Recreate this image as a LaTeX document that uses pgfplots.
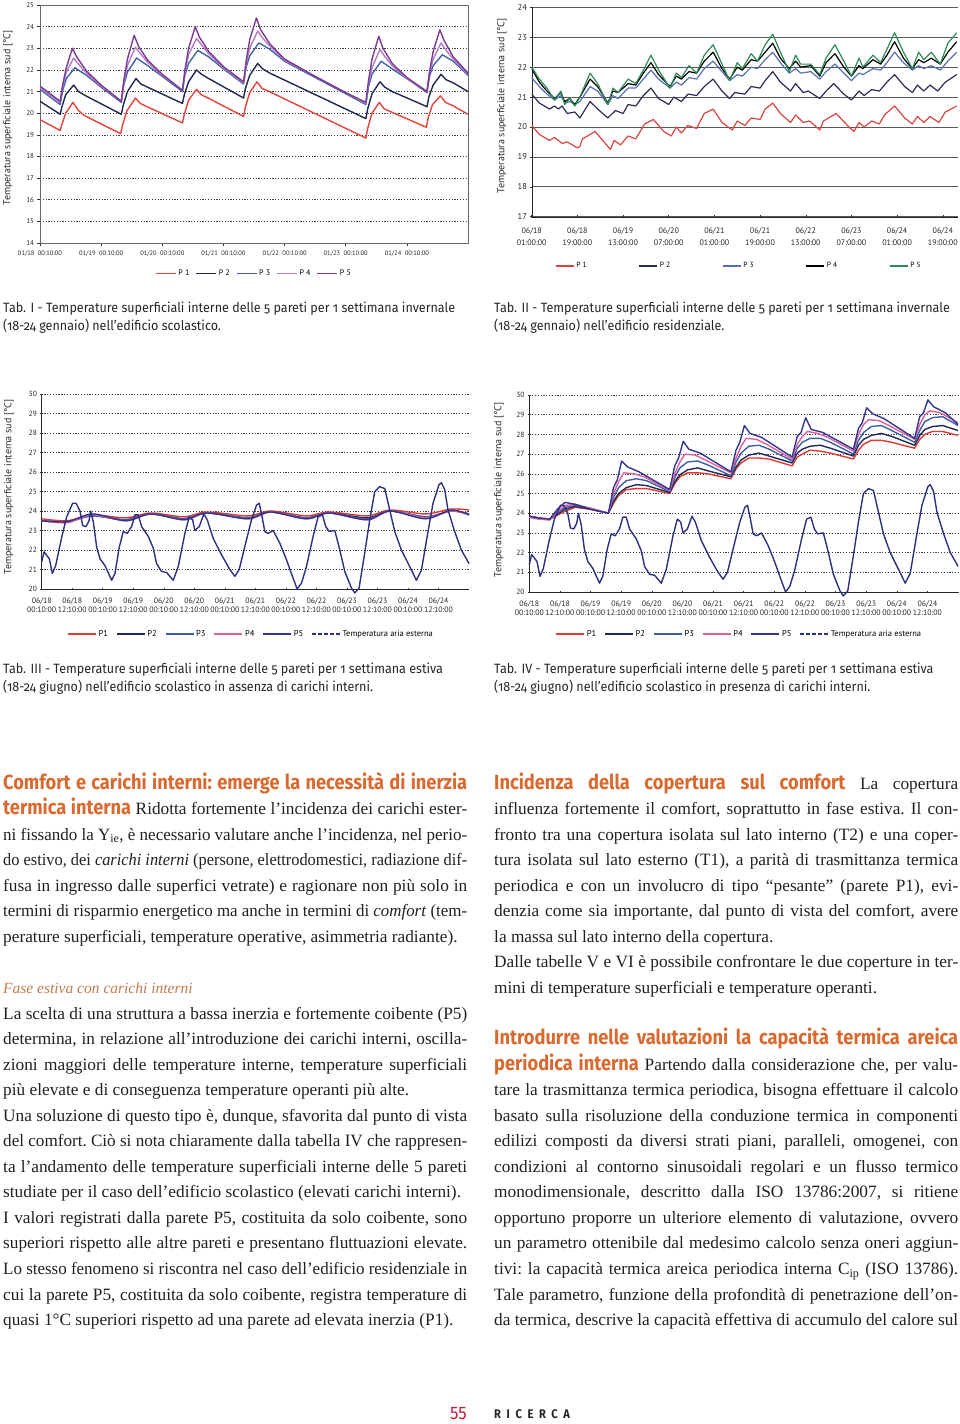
\documentclass[border=0pt]{standalone}
\usepackage{fontspec}
\usepackage{graphicx}
\usepackage{pgfplots}
\pgfplotsset{compat=1.18}
\setmainfont{Liberation Serif}
\newfontfamily\chfont{PT Sans}
\newfontfamily\capfont{Fira Sans}[FakeStretch=0.93,Numbers=OldStyle]
\newfontfamily\hdfont{Fira Sans}[FakeStretch=0.89]

\definecolor{txt}{HTML}{231F20}
\definecolor{hdorange}{HTML}{D9692E}
\definecolor{subhd}{HTML}{C27A4E}
\definecolor{pagered}{HTML}{C41E3A}
% tab I
\definecolor{aRed}{HTML}{E2453C}
\definecolor{aNavy}{HTML}{1F2850}
\definecolor{aBlue}{HTML}{4064A8}
\definecolor{aLilac}{HTML}{B47CC4}
\definecolor{aPurple}{HTML}{7B3C92}
% tab II
\definecolor{bRed}{HTML}{DA4540}
\definecolor{bNavy}{HTML}{2A2C58}
\definecolor{bBlue}{HTML}{5470B4}
\definecolor{bGreen}{HTML}{2E8B57}
% tab III / IV
\definecolor{cRed}{HTML}{E03A30}
\definecolor{cNavy}{HTML}{1E2A5C}
\definecolor{cBlue}{HTML}{3A5FA8}
\definecolor{cPink}{HTML}{E0609E}
\definecolor{cIndigo}{HTML}{34358C}
\definecolor{cOut}{HTML}{2E3080}

\newsavebox\jbox
\newcommand\bodyfont{\fontsize{17.3pt}{19pt}\selectfont\frenchspacing\color{txt}}
\newcommand\hd[1]{{\hdfont\bfseries\fontsize{20.5pt}{22pt}\selectfont\color{hdorange}#1}}
% justified line: stretched to the column, or narrowed if it is too long
\newcommand\fitline[1]{%
  \sbox\jbox{#1}%
  \ifdim\wd\jbox>464pt
    \pgfmathsetmacro\jratio{464/\wd\jbox}%
    \scalebox{\jratio}[1]{\usebox\jbox}%
  \else
    \makebox[464pt][s]{#1}%
  \fi}
\newcommand\jline[3]{\node[anchor=base west,inner sep=0pt,font=\bodyfont] at (#1pt,-#2pt) {\fitline{#3}};}
\newcommand\nline[3]{\node[anchor=base west,inner sep=0pt,font=\bodyfont] at (#1pt,-#2pt) {#3};}
\newcommand\capline[3]{\node[anchor=base west,inner sep=0pt,font=\capfont\fontsize{13.5pt}{15pt}\selectfont,text=black!85] at (#1pt,-#2pt) {#3};}
\newcommand\ylab[2]{\node[rotate=90,inner sep=0pt,font=\chfont\fontsize{10pt}{11pt}\selectfont,text=black!85] at (#1pt,-#2pt) {Temperatura superficiale interna sud [°C]};}

\pgfplotsset{
  pg/.style={
    scale only axis,
    anchor=south west,
    /pgf/number format/assume math mode=true,
    tick label style={font=\chfont\fontsize{7.5pt}{8.5pt}\selectfont, text=black!85},
    legend style={draw=none, fill=none, font=\chfont\fontsize{8.5pt}{9pt}\selectfont},
    legend image code/.code={\draw[##1] (0pt,0pt) -- (20pt,0pt);},
    every axis plot/.append style={line width=1.4pt, line join=round},
    tick style={black!80, line width=0.5pt},
    major tick length=2.5pt,
    tick align=outside,
  },
  dotgrid/.style={ymajorgrids, grid style={black!75, dash pattern=on 1.2pt off 1.6pt, line width=0.6pt}},
}

\begin{document}
\begin{tikzpicture}
\path[use as bounding box] (0pt,0pt) rectangle (960pt,-1424pt);

% ---------------- Tab. I
\begin{axis}[pg, dotgrid, at={(40pt,-243pt)}, width=428pt, height=238pt,
  xmin=0, xmax=7, ymin=14, ymax=25, ytick={14,...,25},
  xtick={0,...,6},
  xticklabels={01/18\ \ 00:10:00,01/19\ \ 00:10:00,01/20\ \ 00:10:00,01/21\ \ 00:10:00,01/22\ \ 00:10:00,01/23\ \ 00:10:00,01/24\ \ 00:10:00},
  x tick label style={font=\chfont\fontsize{6.5pt}{7pt}\selectfont, yshift=-1.5pt},
  y tick label style={font=\chfont\fontsize{7pt}{8pt}\selectfont},
  axis line style={black!60}, tick pos=left,
  legend columns=5,
  legend style={at={(0.5,-0.095)}, anchor=north, font=\chfont\fontsize{8pt}{9pt}\selectfont,
    /tikz/every even column/.append style={column sep=4pt}},
]
\addplot[aRed] coordinates {(0,19.7) (0.33,19.2) (0.36,19.5) (0.42,20.0) (0.54,20.5) (0.62,20.15) (0.72,19.9) (1.32,19.05) (1.35,19.45) (1.42,20.1) (1.56,20.7) (1.64,20.45) (1.75,20.3) (2.33,19.55) (2.36,19.95) (2.43,20.6) (2.56,21.1) (2.64,20.85) (2.75,20.7) (3.33,19.85) (3.36,20.3) (3.43,20.95) (3.55,21.45) (3.63,21.15) (3.75,21.0) (5.33,18.85) (5.36,19.3) (5.43,20.0) (5.55,20.5) (5.63,20.2) (5.75,20.05) (6.32,19.35) (6.35,19.8) (6.42,20.4) (6.55,20.8) (6.63,20.5) (6.75,20.35) (7,19.95)};
\addlegendentry{P~1}
\addplot[aNavy] coordinates {(0,20.55) (0.33,19.95) (0.36,20.3) (0.42,20.85) (0.55,21.3) (0.63,21.0) (0.75,20.8) (1.33,19.95) (1.36,20.35) (1.43,21.0) (1.57,21.6) (1.65,21.35) (1.76,21.2) (2.33,20.45) (2.36,20.85) (2.43,21.45) (2.56,22.0) (2.64,21.8) (2.76,21.6) (3.33,20.7) (3.36,21.15) (3.43,21.75) (3.56,22.3) (3.64,22.05) (3.76,21.85) (5.33,19.75) (5.36,20.2) (5.43,20.9) (5.56,21.45) (5.64,21.2) (5.76,21.0) (6.33,20.3) (6.36,20.75) (6.43,21.3) (6.56,21.8) (6.64,21.55) (6.76,21.4) (7,21.0)};
\addlegendentry{P~2}
\addplot[aBlue] coordinates {(0,21.1) (0.33,20.4) (0.37,21.05) (0.43,21.6) (0.57,22.1) (0.76,21.75) (1.0,21.2) (1.33,20.5) (1.37,21.3) (1.43,21.9) (1.58,22.55) (1.76,22.2) (2.0,21.7) (2.33,21.0) (2.37,21.75) (2.43,22.3) (2.58,22.9) (2.76,22.6) (3.0,22.05) (3.33,21.35) (3.37,22.1) (3.43,22.65) (3.58,23.25) (3.76,22.95) (4.0,22.4) (4.5,21.65) (5.0,20.9) (5.33,20.4) (5.37,21.2) (5.43,21.8) (5.58,22.4) (5.76,22.05) (6.0,21.6) (6.33,20.95) (6.37,21.7) (6.43,22.2) (6.58,22.7) (6.76,22.4) (7.0,21.75)};
\addlegendentry{P~3}
\addplot[aLilac] coordinates {(0,21.2) (0.33,20.5) (0.37,21.2) (0.43,21.9) (0.55,22.55) (0.62,22.3) (0.76,21.85) (1.0,21.25) (1.33,20.55) (1.37,21.4) (1.43,22.2) (1.56,23.05) (1.63,22.8) (1.76,22.35) (2.0,21.75) (2.33,21.05) (2.37,21.9) (2.43,22.7) (2.56,23.45) (2.63,23.2) (2.76,22.75) (3.0,22.1) (3.33,21.4) (3.37,22.25) (3.43,23.0) (3.56,23.8) (3.63,23.5) (3.76,23.1) (4.0,22.45) (4.5,21.7) (5.0,20.95) (5.33,20.45) (5.37,21.3) (5.43,22.1) (5.56,22.95) (5.63,22.65) (5.76,22.2) (6.0,21.6) (6.33,21.0) (6.37,21.85) (6.43,22.5) (6.56,23.25) (6.63,22.95) (6.76,22.5) (7.0,21.8)};
\addlegendentry{P~4}
\addplot[aPurple] coordinates {(0,21.25) (0.33,20.55) (0.37,21.3) (0.43,22.1) (0.53,23.0) (0.6,22.6) (0.76,21.95) (1.0,21.3) (1.33,20.55) (1.37,21.5) (1.43,22.5) (1.54,23.6) (1.61,23.1) (1.76,22.45) (2.0,21.8) (2.33,21.05) (2.37,22.0) (2.43,23.0) (2.54,24.0) (2.61,23.5) (2.76,22.85) (3.0,22.15) (3.33,21.45) (3.37,22.4) (3.43,23.4) (3.54,24.4) (3.61,23.85) (3.76,23.2) (4.0,22.5) (4.5,21.7) (5.0,20.95) (5.33,20.5) (5.37,21.45) (5.43,22.5) (5.54,23.55) (5.61,23.0) (5.76,22.3) (6.0,21.65) (6.33,21.0) (6.37,21.9) (6.43,22.85) (6.54,23.85) (6.61,23.35) (6.76,22.6) (7.0,21.85)};
\addlegendentry{P~5}
\end{axis}
\ylab{8}{118}

% ---------------- Tab. II
\begin{axis}[pg, at={(531.7pt,-216.7pt)}, width=426.3pt, height=209.4pt,
  xmin=0, xmax=168, ymin=17, ymax=24, ytick={17,...,24},
  xtick={0,18,...,162},
  xticklabels={{06/18\\01:00:00},{06/18\\19:00:00},{06/19\\13:00:00},{06/20\\07:00:00},{06/21\\01:00:00},{06/21\\19:00:00},{06/22\\13:00:00},{06/23\\07:00:00},{06/24\\01:00:00},{06/24\\19:00:00}},
  x tick label style={align=center, font=\chfont\fontsize{8pt}{12pt}\selectfont, yshift=-6.5pt},
  y tick label style={font=\chfont\fontsize{8.5pt}{9pt}\selectfont},
  axis x line=bottom, axis y line=left, axis line style={-, black!85},
  ymajorgrids, grid style={black!65, line width=0.6pt},
  every axis plot/.append style={line width=1.2pt},
  legend columns=5,
  legend image code/.code={\draw[#1] (0pt,0pt) -- (18pt,0pt);},
  legend style={at={(0.486,-0.235)}, anchor=center, font=\chfont\fontsize{7.5pt}{9pt}\selectfont,
    /tikz/every even column/.append style={column sep=50pt}},
]
\addplot[bRed] coordinates {(0,20.05) (3,19.75) (7,19.55) (9,19.65) (12,19.45) (14,19.5) (16,19.4) (18,19.3) (19,19.35) (20,19.6) (25,19.85) (28,19.55) (31,19.25) (32.5,19.55) (35,19.4) (38,19.7) (41,19.6) (44.5,20.1) (48,20.25) (52,19.85) (55,19.7) (57,20.0) (59,19.8) (61.5,20.05) (65,19.95) (68,20.45) (71.5,20.6) (75,20.15) (79,19.9) (81,20.2) (84,20.05) (86.5,20.3) (90,20.25) (92,20.6) (95,20.8) (98,20.45) (102,20.15) (104,20.4) (107,20.15) (109.5,20.2) (113.5,19.9) (115,20.2) (120,20.45) (125,20.0) (127,19.85) (129,20.15) (131,20.0) (134,20.2) (137,20.1) (139,20.4) (143,20.7) (147,20.3) (150,20.1) (152,20.35) (154.5,20.15) (157,20.35) (160.5,20.15) (163,20.5) (167.5,20.7)};
\addlegendentry{P~1}
\addplot[bNavy] coordinates {(0,21.1) (3,20.8) (7,20.6) (9,20.7) (10.5,20.6) (12,20.7) (14,20.45) (17,20.5) (19,20.3) (23,20.85) (26,20.6) (30,20.3) (33,20.55) (36,20.45) (38,20.75) (41,20.7) (44,21.05) (47,21.3) (50,20.95) (54,20.75) (56,21.0) (59,20.85) (61.6,21.1) (65,21.05) (68,21.35) (71.5,21.6) (75,21.2) (78,20.95) (80,21.15) (84,21.1) (86.5,21.35) (90,21.3) (92,21.55) (95,21.85) (98,21.5) (102,21.2) (104,21.45) (107,21.15) (109,21.2) (113.5,20.95) (116,21.2) (119,21.45) (123,21.1) (126,20.9) (129,21.2) (131,21.05) (134,21.25) (137,21.2) (140,21.5) (143,21.75) (147,21.35) (150,21.15) (152,21.4) (154.5,21.2) (157,21.4) (160,21.2) (163,21.5) (167.5,21.75)};
\addlegendentry{P~2}
\addplot[bBlue] coordinates {(0,21.65) (3,21.35) (6,21.1) (9,20.9) (11.5,21.05) (13,20.8) (15,20.85) (17,20.75) (19,20.85) (23,21.35) (26,21.2) (30,20.75) (32,21.05) (34,20.95) (38,21.3) (41,21.3) (44,21.6) (47,21.9) (50,21.6) (54.5,21.3) (57,21.5) (59,21.4) (62,21.65) (65,21.6) (68,21.95) (71.5,22.2) (75,21.85) (78,21.55) (81,21.75) (83,21.7) (86.5,22.0) (89,21.95) (92,22.25) (95,22.5) (98,22.15) (101.5,21.8) (104,21.95) (106,21.8) (110,21.85) (113.5,21.6) (116,21.85) (119.5,22.1) (123,21.8) (126,21.55) (129,21.8) (130.5,21.75) (134.5,21.95) (137.5,21.9) (140,22.15) (143,22.5) (146.5,22.15) (150,21.9) (152.5,22.05) (154.5,21.95) (157.5,22.05) (161,21.9) (164,22.2) (167.5,22.5)};
\addlegendentry{P~3}
\addplot[black] coordinates {(0,21.95) (3,21.5) (6,21.2) (9,20.95) (11.5,21.15) (13,20.85) (15,20.95) (17,20.75) (19,21.0) (23,21.6) (26,21.35) (30,20.8) (32,21.2) (34,21.15) (38,21.45) (41,21.4) (44,21.8) (47,22.15) (50,21.75) (54.5,21.35) (57,21.7) (59,21.6) (62,21.85) (65,21.8) (68,22.2) (71.5,22.5) (75,21.95) (78,21.6) (81,22.0) (83,21.9) (86.5,22.25) (89,22.2) (92,22.5) (95,22.8) (98,22.3) (101.5,21.95) (104,22.2) (106,22.0) (110,22.05) (113.5,21.7) (116,22.15) (119.5,22.45) (123,22.0) (126,21.7) (129,22.05) (130.5,21.95) (134.5,22.25) (137.5,22.1) (140,22.4) (143,22.85) (146.5,22.3) (150,21.95) (152.5,22.25) (154.5,22.15) (157.5,22.3) (161,22.1) (164,22.5) (167.5,22.85)};
\addlegendentry{P~4}
\addplot[bGreen] coordinates {(0,22.0) (3,21.6) (6,21.3) (9,20.9) (11.5,21.2) (13,20.75) (15,20.95) (17,20.7) (19,21.0) (23,21.8) (26,21.45) (30,20.75) (32,21.3) (34,21.15) (38,21.6) (41,21.45) (44,21.9) (47,22.4) (50,21.9) (54.5,21.3) (57,21.8) (59,21.65) (62,22.05) (65,21.8) (68,22.4) (71.5,22.75) (75,22.1) (78,21.55) (81,22.15) (83,21.95) (86.5,22.45) (89,22.2) (92,22.75) (95,23.1) (98,22.5) (101.5,21.85) (104,22.4) (106,22.1) (110,22.1) (113.5,21.75) (116,22.3) (119.5,22.75) (123,22.2) (126,21.7) (129,22.3) (130.5,22.0) (134.5,22.4) (137.5,22.15) (140,22.6) (143,23.15) (146.5,22.5) (150,21.95) (152.5,22.5) (154.5,22.25) (157.5,22.5) (161,22.1) (164,22.8) (167.5,23.15)};
\addlegendentry{P~5}
\end{axis}
\ylab{502}{106}

% ---------------- Tab. III
\begin{axis}[pg, dotgrid, at={(41.7pt,-589pt)}, width=427.3pt, height=195pt,
  xmin=0, xmax=168, ymin=20, ymax=30, ytick={20,...,30}, clip=false,
  xtick={0,12,...,156},
  xticklabels={{06/18\\00:10:00},{06/18\\12:10:00},{06/19\\00:10:00},{06/19\\12:10:00},{06/20\\00:10:00},{06/20\\12:10:00},{06/21\\00:10:00},{06/21\\12:10:00},{06/22\\00:10:00},{06/22\\12:10:00},{06/23\\00:10:00},{06/23\\12:10:00},{06/24\\00:10:00},{06/24\\12:10:00}},
  x tick label style={align=center, font=\chfont\fontsize{7.8pt}{9.5pt}\selectfont, inner sep=1pt, yshift=-6pt},
  axis x line=bottom, axis y line=left, axis line style={-, black!85},
  legend columns=6,
  legend image code/.code={\draw[#1] (0pt,0pt) -- (28pt,0pt);},
  legend style={at={(0.49,-0.23)}, anchor=center,
    /tikz/every even column/.append style={column sep=6pt}},
]
\addplot[cRed, smooth] coordinates {(0,23.6) (10,23.5) (20,23.8) (33,23.65) (43,23.9) (56,23.7) (65,23.95) (81,23.75) (90,24.0) (104,23.75) (113,23.95) (128,23.75) (137,24.05) (151,23.85) (161,24.1) (168,24.05)};
\addlegendentry{P1}
\addplot[cNavy, smooth] coordinates {(0,23.5) (10,23.45) (20,23.75) (33,23.55) (43,23.85) (56,23.6) (65,23.9) (81,23.65) (90,23.95) (104,23.65) (113,23.9) (128,23.65) (137,24.0) (151,23.7) (161,24.0) (168,23.85)};
\addlegendentry{P2}
\addplot[cBlue, smooth] coordinates {(0,23.5) (10,23.45) (20,23.75) (33,23.55) (43,23.85) (56,23.6) (65,23.9) (81,23.65) (90,23.95) (104,23.65) (113,23.9) (128,23.6) (137,24.0) (151,23.7) (161,24.0) (168,23.85)};
\addlegendentry{P3}
\addplot[cPink, smooth] coordinates {(0,23.5) (10,23.4) (20,23.8) (33,23.5) (43,23.85) (56,23.55) (65,23.9) (81,23.6) (90,23.95) (104,23.6) (113,23.9) (128,23.55) (137,24.0) (151,23.65) (161,24.0) (168,23.8)};
\addlegendentry{P4}
\addplot[cIndigo, smooth] coordinates {(0,23.5) (10,23.45) (20,23.85) (33,23.5) (43,23.85) (56,23.55) (65,23.9) (81,23.6) (90,23.95) (104,23.6) (113,23.9) (128,23.55) (137,24.0) (151,23.6) (161,24.05) (168,23.8)};
\addlegendentry{P5}
\addplot[cOut, forget plot] coordinates {(0,21.4) (0.92,21.9) (3.01,21.55) (4.19,20.8) (5.5,21.2) (7.86,22.65) (9.82,23.7) (12.18,24.4) (13.49,24.4) (15.06,24.0) (16.11,23.25) (17.42,23.2) (18.6,23.5) (19.25,24.0) (20.3,23.45) (21.61,22.15) (22.92,21.55) (24.88,21.2) (27.5,20.45) (28.81,20.8) (30.51,22.15) (32.08,22.95) (33.65,22.85) (35.35,23.2) (36.66,23.8) (37.97,23.8) (39.28,23.2) (41.9,22.7) (43.86,22.1) (45.17,21.3) (47.14,20.9) (49.1,20.85) (51.72,20.45) (53.68,21.15) (56.3,22.85) (58.01,23.7) (59.32,23.55) (60.23,23.0) (61.94,23.2) (63.77,23.85) (65.08,23.55) (67.43,22.6) (70.71,21.75) (73.98,21.0) (75.94,20.65) (77.65,21.0) (80.27,22.4) (82.49,23.55) (84.46,24.3) (85.51,24.4) (86.42,23.85) (87.73,22.95) (89.04,22.85) (91.0,23.0) (93.62,22.35) (96.24,21.5) (98.86,20.55) (100.43,20.0) (102.13,20.3) (104.1,21.15) (106.71,22.7) (108.68,23.7) (110.38,23.8) (111.69,23.2) (113.0,22.95) (115.23,23.0) (116.93,22.15) (119.16,20.9) (121.77,20.05) (123.08,19.8) (124.79,20.05) (127.01,21.85) (128.98,23.55) (130.94,25.0) (132.9,25.25) (134.87,25.15) (136.83,24.05) (138.8,22.95) (141.42,22.0) (144.69,21.15) (147.31,20.45) (149.27,20.95) (151.89,22.95) (153.86,24.4) (156.21,25.35) (157.13,25.45) (158.44,25.1) (159.75,24.05) (162.37,22.95) (164.99,22.0) (166.95,21.55) (168.0,21.3)};
\addlegendimage{cOut, dash pattern=on 4pt off 2pt}
\addlegendentry{Temperatura aria esterna}
\end{axis}
\ylab{9}{487}

% ---------------- Tab. IV
\begin{axis}[pg, dotgrid, at={(529.3pt,-592pt)}, width=428.7pt, height=197pt,
  xmin=0, xmax=168, ymin=20, ymax=30, ytick={20,...,30}, clip=false,
  xtick={0,12,...,156},
  xticklabels={{06/18\\00:10:00},{06/18\\12:10:00},{06/19\\00:10:00},{06/19\\12:10:00},{06/20\\00:10:00},{06/20\\12:10:00},{06/21\\00:10:00},{06/21\\12:10:00},{06/22\\00:10:00},{06/22\\12:10:00},{06/23\\00:10:00},{06/23\\12:10:00},{06/24\\00:10:00},{06/24\\12:10:00}},
  x tick label style={align=center, font=\chfont\fontsize{7.8pt}{9.5pt}\selectfont, inner sep=1pt, yshift=-6pt},
  axis x line=bottom, axis y line=left, axis line style={-, black!85},
  legend columns=6,
  legend image code/.code={\draw[#1] (0pt,0pt) -- (28pt,0pt);},
  legend style={at={(0.49,-0.213)}, anchor=center,
    /tikz/every even column/.append style={column sep=6pt}},
]
\addplot[cRed] coordinates {(0,23.85) (4,23.75) (8,23.7) (11,23.9) (14,24.1) (18,24.3) (24,24.2) (31,24.0) (33,24.5) (35,24.9) (38,25.2) (42,25.25) (46,25.25) (55,25.0) (57,25.5) (59,25.85) (62,26.05) (66,26.05) (70,26.0) (79,25.75) (81,26.25) (83,26.55) (86,26.8) (90,26.8) (94,26.75) (103,26.4) (105,26.85) (107,27.0) (110,27.2) (114,27.15) (118,27.05) (127,26.75) (129,27.2) (131,27.5) (134,27.7) (138,27.7) (142,27.6) (151,27.3) (153,27.75) (155,28.0) (158,28.15) (162,28.15) (168,27.95)};
\addlegendentry{P1}
\addplot[cNavy] coordinates {(0,23.85) (4,23.75) (8,23.7) (11,23.95) (14,24.2) (18,24.35) (24,24.2) (31,24.0) (33,24.6) (35,25.0) (38,25.3) (42,25.45) (46,25.4) (55,25.05) (57,25.6) (59,25.95) (62,26.2) (66,26.3) (70,26.15) (79,25.85) (81,26.35) (83,26.7) (86,26.95) (90,27.05) (94,26.9) (103,26.55) (105,27.05) (107,27.25) (110,27.4) (114,27.45) (118,27.3) (127,26.9) (129,27.45) (131,27.75) (134,27.95) (138,28.05) (142,27.9) (151,27.45) (153,27.95) (155,28.25) (158,28.4) (162,28.45) (168,28.2)};
\addlegendentry{P2}
\addplot[cBlue] coordinates {(0,23.8) (4,23.7) (8,23.7) (11,24.0) (14,24.3) (18,24.4) (24,24.25) (31,24.0) (33,24.8) (35,25.3) (38,25.65) (42,25.75) (46,25.65) (55,25.1) (57,25.8) (59,26.3) (62,26.6) (66,26.65) (70,26.45) (79,25.9) (81,26.6) (83,27.05) (86,27.4) (90,27.45) (94,27.25) (103,26.65) (105,27.3) (107,27.6) (110,27.8) (114,27.8) (118,27.6) (127,27.0) (129,27.7) (131,28.1) (134,28.4) (138,28.45) (142,28.2) (151,27.6) (153,28.2) (155,28.65) (158,28.85) (162,28.9) (168,28.45)};
\addlegendentry{P3}
\addplot[cPink] coordinates {(0,23.8) (4,23.7) (8,23.65) (11,24.05) (14,24.4) (18,24.45) (24,24.25) (31,24.0) (33,25.0) (35,25.6) (37,26.05) (41,26.0) (45,25.85) (55,25.15) (57,26.0) (59,26.6) (61,27.0) (65,26.95) (69,26.7) (79,26.05) (81,26.8) (83,27.4) (85,27.8) (89,27.75) (93,27.5) (103,26.75) (105,27.5) (107,27.9) (109,28.15) (113,28.05) (117,27.85) (127,27.15) (129,28.0) (131,28.5) (133,28.75) (137,28.7) (141,28.45) (151,27.75) (153,28.5) (155,29.0) (157,29.2) (161,29.1) (168,28.6)};
\addlegendentry{P4}
\addplot[cIndigo] coordinates {(0,23.85) (4,23.75) (8,23.7) (11,24.2) (14,24.55) (18,24.45) (24,24.2) (31,24.0) (33,25.3) (34.5,25.7) (36.2,26.65) (38.5,26.35) (43,26.1) (55,25.2) (57,26.4) (58.5,26.8) (60.3,27.65) (62.5,27.25) (67,27.05) (79,26.1) (81,27.2) (82.5,27.6) (84.3,28.45) (86.5,28.05) (91,27.85) (103,26.85) (105,27.9) (106.5,28.1) (108.3,28.85) (110.5,28.25) (115,28.1) (127,27.25) (129,28.3) (130.5,28.6) (132.2,29.35) (134.5,29.05) (139,28.8) (151,27.8) (153,28.9) (154.5,29.1) (156.2,29.75) (158.5,29.4) (163,29.1) (168,28.5)};
\addlegendentry{P5}
\addplot[cOut, forget plot] coordinates {(0,21.4) (0.92,21.9) (3.01,21.55) (4.19,20.8) (5.5,21.2) (7.86,22.65) (9.82,23.7) (12.18,24.4) (13.49,24.4) (15.06,24.0) (16.11,23.25) (17.42,23.2) (18.6,23.5) (19.25,24.0) (20.3,23.45) (21.61,22.15) (22.92,21.55) (24.88,21.2) (27.5,20.45) (28.81,20.8) (30.51,22.15) (32.08,22.95) (33.65,22.85) (35.35,23.2) (36.66,23.8) (37.97,23.8) (39.28,23.2) (41.9,22.7) (43.86,22.1) (45.17,21.3) (47.14,20.9) (49.1,20.85) (51.72,20.45) (53.68,21.15) (56.3,22.85) (58.01,23.7) (59.32,23.55) (60.23,23.0) (61.94,23.2) (63.77,23.85) (65.08,23.55) (67.43,22.6) (70.71,21.75) (73.98,21.0) (75.94,20.65) (77.65,21.0) (80.27,22.4) (82.49,23.55) (84.46,24.3) (85.51,24.4) (86.42,23.85) (87.73,22.95) (89.04,22.85) (91.0,23.0) (93.62,22.35) (96.24,21.5) (98.86,20.55) (100.43,20.0) (102.13,20.3) (104.1,21.15) (106.71,22.7) (108.68,23.7) (110.38,23.8) (111.69,23.2) (113.0,22.95) (115.23,23.0) (116.93,22.15) (119.16,20.9) (121.77,20.05) (123.08,19.8) (124.79,20.05) (127.01,21.85) (128.98,23.55) (130.94,25.0) (132.9,25.25) (134.87,25.15) (136.83,24.05) (138.8,22.95) (141.42,22.0) (144.69,21.15) (147.31,20.45) (149.27,20.95) (151.89,22.95) (153.86,24.4) (156.21,25.35) (157.13,25.45) (158.44,25.1) (159.75,24.05) (162.37,22.95) (164.99,22.0) (166.95,21.55) (168.0,21.3)};
\addlegendimage{cOut, dash pattern=on 4pt off 2pt}
\addlegendentry{Temperatura aria esterna}
\end{axis}
\ylab{499}{490}

% ---------------- captions
\capline{3}{312.5}{Tab. I - Temperature superficiali interne delle 5 pareti per 1 settimana invernale}
\capline{3}{330.5}{(18-24 gennaio) nell’edificio scolastico.}
\capline{494}{312.5}{Tab. II - Temperature superficiali interne delle 5 pareti per 1 settimana invernale}
\capline{494}{330.5}{(18-24 gennaio) nell’edificio residenziale.}
\capline{3}{673}{Tab. III - Temperature superficiali interne delle 5 pareti per 1 settimana estiva}
\capline{3}{691}{(18-24 giugno) nell’edificio scolastico in assenza di carichi interni.}
\capline{494}{673}{Tab. IV - Temperature superficiali interne delle 5 pareti per 1 settimana estiva}
\capline{494}{691}{(18-24 giugno) nell’edificio scolastico in presenza di carichi interni.}

% ---------------- left column
\jline{3}{789}{\hd{Comfort e carichi interni: emerge la necessità di inerzia}}
\jline{3}{814.5}{\hd{termica interna} Ridotta fortemente l’incidenza dei carichi ester-}
\jline{3}{840}{ni fissando la Y\textsubscript{ie}, è necessario valutare anche l’incidenza, nel perio-}
\jline{3}{865.7}{do estivo, dei \textit{carichi interni} (persone, elettrodomestici, radiazione dif-}
\jline{3}{891.2}{fusa in ingresso dalle superfici vetrate) e ragionare non più solo in}
\jline{3}{916.8}{termini di risparmio energetico ma anche in termini di \textit{comfort} (tem-}
\nline{3}{942.3}{perature superficiali, temperature operative, asimmetria radiante).}
\nline{3}{993.4}{\fontsize{15.5pt}{17pt}\selectfont\color{subhd}\textit{Fase estiva con carichi interni}}
\jline{3}{1019}{La scelta di una struttura a bassa inerzia e fortemente coibente (P5)}
\jline{3}{1044.5}{determina, in relazione all’introduzione dei carichi interni, oscilla-}
\jline{3}{1070}{zioni maggiori delle temperature interne, temperature superficiali}
\nline{3}{1095.6}{più elevate e di conseguenza temperature operanti più alte.}
\jline{3}{1121.2}{Una soluzione di questo tipo è, dunque, sfavorita dal punto di vista}
\jline{3}{1146.7}{del comfort. Ciò si nota chiaramente dalla tabella IV che rappresen-}
\jline{3}{1172.3}{ta l’andamento delle temperature superficiali interne delle 5 pareti}
\nline{3}{1197.8}{studiate per il caso dell’edificio scolastico (elevati carichi interni).}
\jline{3}{1223.4}{I valori registrati dalla parete P5, costituita da solo coibente, sono}
\jline{3}{1248.9}{superiori rispetto alle altre pareti e presentano fluttuazioni elevate.}
\jline{3}{1274.5}{Lo stesso fenomeno si riscontra nel caso dell’edificio residenziale in}
\jline{3}{1300}{cui la parete P5, costituita da solo coibente, registra temperature di}
\nline{3}{1325.6}{quasi 1°C superiori rispetto ad una parete ad elevata inerzia (P1).}

% ---------------- right column
\jline{494}{789}{\hd{Incidenza della copertura sul comfort} La copertura}
\jline{494}{814.5}{influenza fortemente il comfort, soprattutto in fase estiva. Il con-}
\jline{494}{840}{fronto tra una copertura isolata sul lato interno (T2) e una coper-}
\jline{494}{865.7}{tura isolata sul lato esterno (T1), a parità di trasmittanza termica}
\jline{494}{891.2}{periodica e con un involucro di tipo “pesante” (parete P1), evi-}
\jline{494}{916.8}{denzia come sia importante, dal punto di vista del comfort, avere}
\nline{494}{942.3}{la massa sul lato interno della copertura.}
\jline{494}{967.8}{Dalle tabelle V e VI è possibile confrontare le due coperture in ter-}
\nline{494}{993.4}{mini di temperature superficiali e temperature operanti.}
\jline{494}{1044.5}{\hd{Introdurre nelle valutazioni la capacità termica areica}}
\jline{494}{1070}{\hd{periodica interna} Partendo dalla considerazione che, per valu-}
\jline{494}{1095.6}{tare la trasmittanza termica periodica, bisogna effettuare il calcolo}
\jline{494}{1121.2}{basato sulla risoluzione della conduzione termica in componenti}
\jline{494}{1146.7}{edilizi composti da diversi strati piani, paralleli, omogenei, con}
\jline{494}{1172.3}{condizioni al contorno sinusoidali regolari e un flusso termico}
\jline{494}{1197.8}{monodimensionale, descritto dalla ISO 13786:2007, si ritiene}
\jline{494}{1223.4}{opportuno proporre un ulteriore elemento di valutazione, ovvero}
\jline{494}{1248.9}{un parametro ottenibile dal medesimo calcolo senza oneri aggiun-}
\jline{494}{1274.5}{tivi: la capacità termica areica periodica interna C\textsubscript{ip} (ISO 13786).}
\jline{494}{1300}{Tale parametro, funzione della profondità di penetrazione dell’on-}
\jline{494}{1325.6}{da termica, descrive la capacità effettiva di accumulo del calore sul}

% ---------------- footer
\node[anchor=base east,inner sep=0pt,font=\capfont\fontsize{18pt}{20pt}\selectfont,text=pagered] at (467pt,-1419pt) {\addfontfeature{Numbers=Lining}55};
\node[anchor=base west,inner sep=0pt,font=\hdfont\bfseries\fontsize{12.5pt}{14pt}\selectfont,text=black!85] at (494pt,-1418pt) {\addfontfeature{LetterSpace=45}RICERCA};
\end{tikzpicture}
\end{document}
